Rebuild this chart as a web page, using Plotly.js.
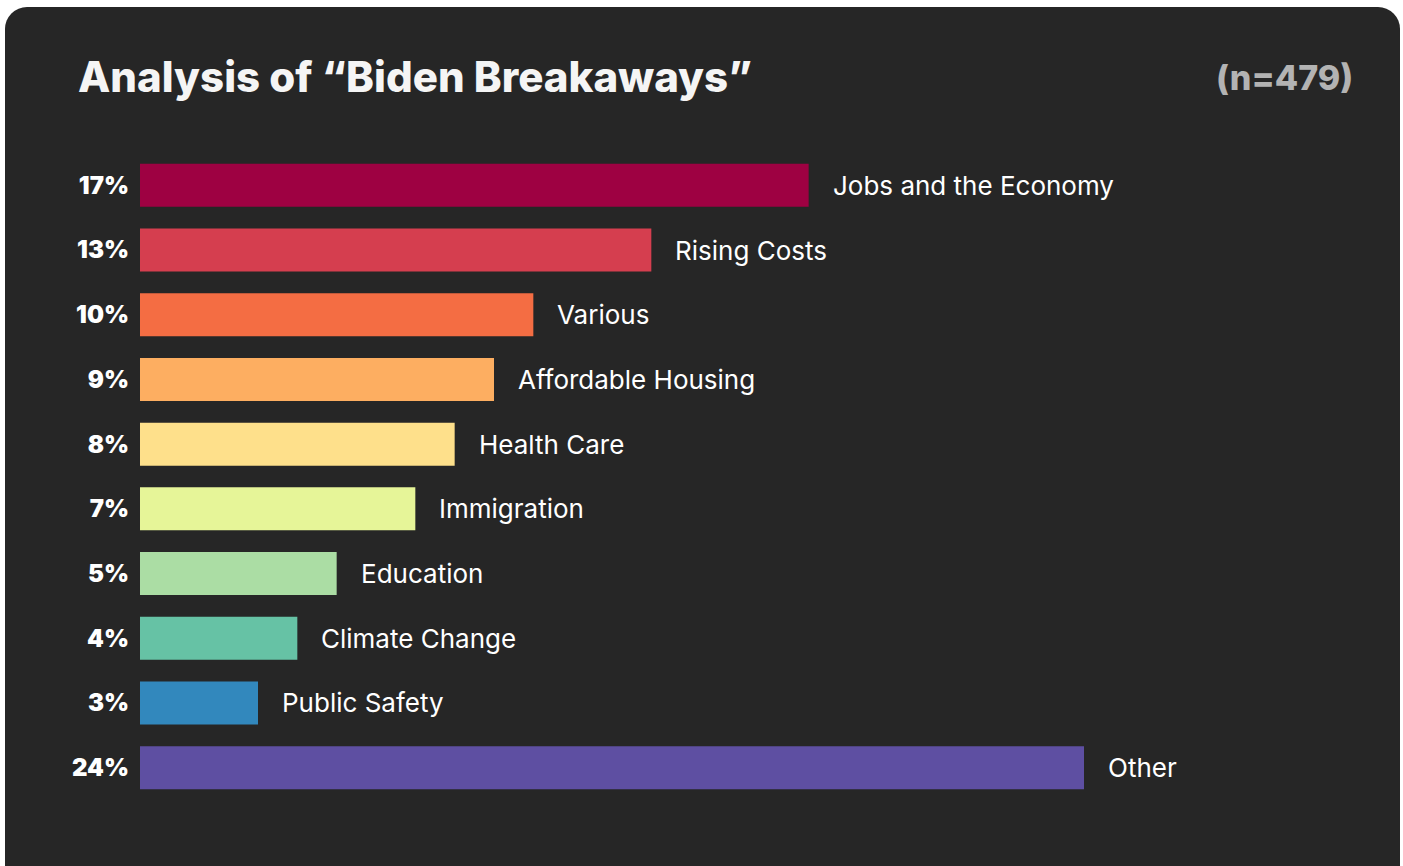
<!DOCTYPE html>
<html>
<head>
<meta charset="utf-8">
<script src="https://cdn.plot.ly/plotly-3.0.1.min.js"></script>
<style>
  html, body { margin:0; padding:0; background:#ffffff; width:1403px; height:866px; overflow:hidden; }
  #card { position:absolute; left:5px; top:7px; width:1395px; height:900px; background:#262626; border-radius:22px; }
  #chart { position:absolute; left:0; top:0; width:1403px; height:866px; }
</style>
</head>
<body>
<div id="card"></div>
<div id="chart"></div>
<script>
const categories = ["Jobs and the Economy","Rising Costs","Various","Affordable Housing","Health Care","Immigration","Education","Climate Change","Public Safety","Other"];
const values = [17, 13, 10, 9, 8, 7, 5, 4, 3, 24];
const pctLabels = ["17%","13%","10%","9%","8%","7%","5%","4%","3%","24%"];
const colors = ["#9e0142","#d53e4f","#f46d43","#fdae61","#fee08b","#e6f598","#abdda4","#66c2a5","#3288bd","#5e4fa2"];
const titleText = "Analysis of “Biden Breakaways”";
const sampleText = "(n=479)";

const trace = {
  type: 'bar',
  orientation: 'h',
  x: values,
  y: categories,
  marker: { color: colors, line: { width: 0 } },
  hoverinfo: 'none'
};

const annotations = categories.map((c, i) => ({
  x: values[i], y: c, xref: 'x', yref: 'y',
  text: c, showarrow: false, xanchor: 'left', yanchor: 'middle',
  xshift: 22,
  font: { family: 'Inter, sans-serif', size: 26, color: '#ffffff' }
}));
annotations.push({
  xref: 'paper', yref: 'paper', x: 1 + (1352 - 1320) / 1180, y: 1 + (153 - 77) / 647,
  text: sampleText, showarrow: false, xanchor: 'right', yanchor: 'middle', xshift: 3,
  font: { family: 'Inter, sans-serif', size: 34, color: '#b3b3b3', weight: 800 }
});

const layout = {
  width: 1403, height: 866,
  paper_bgcolor: 'rgba(0,0,0,0)',
  plot_bgcolor: 'rgba(0,0,0,0)',
  margin: { l: 140, r: 83, t: 153, b: 66 },
  showlegend: false,
  bargap: 0.336,
  title: {
    text: titleText,
    xref: 'container', yref: 'container',
    x: 78 / 1403, xanchor: 'left',
    y: 1 - 77 / 866, yanchor: 'middle',
    font: { family: 'Inter, sans-serif', size: 42, color: '#f5f5f5', weight: 800 }
  },
  xaxis: { range: [0, 30], visible: false, fixedrange: true },
  yaxis: {
    type: 'category', autorange: 'reversed',
    tickmode: 'array', tickvals: categories, ticktext: pctLabels,
    showgrid: false, zeroline: false, showline: false, ticks: '',
    ticklabelstandoff: 10,
    tickfont: { family: 'Inter, sans-serif', size: 24, color: '#ffffff', weight: 900 }
  },
  annotations: annotations
};

Plotly.newPlot('chart', [trace], layout, { staticPlot: true, displayModeBar: false });
</script>
</body>
</html>
